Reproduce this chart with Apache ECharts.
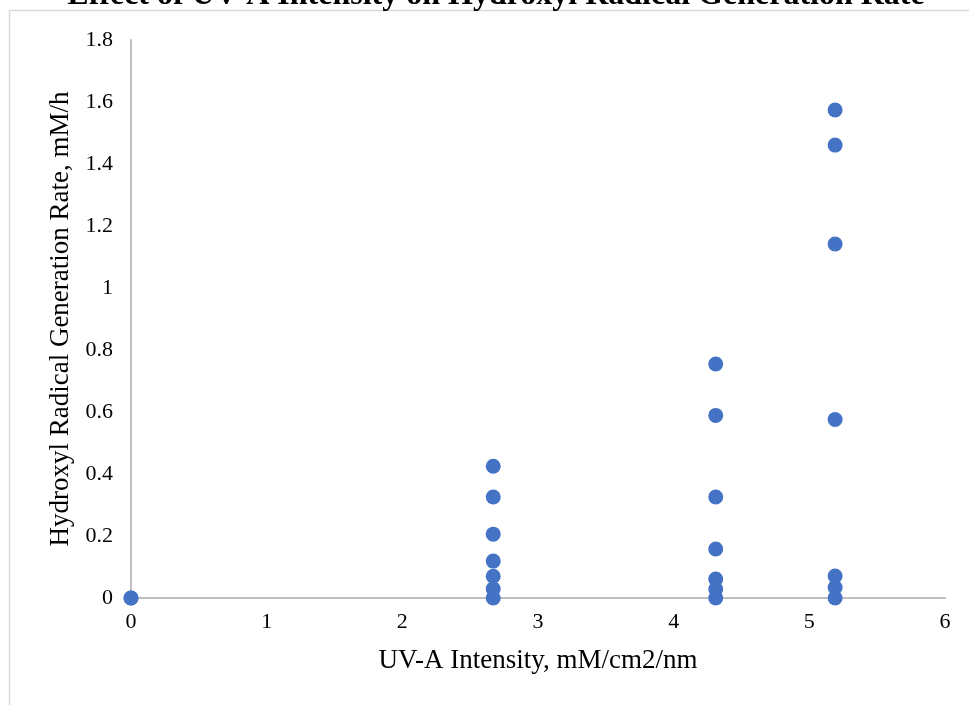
<!DOCTYPE html>
<html>
<head>
<meta charset="utf-8">
<script src="https://cdn.jsdelivr.net/npm/echarts@6/dist/echarts.min.js"></script>
<style>
  html, body { margin: 0; padding: 0; background: #fff; }
  #chart { width: 969px; height: 705px; }
</style>
</head>
<body>
<div id="chart"></div>
<script>
// UV-A intensity (x) and hydroxyl radical generation rate (y), one entry per point
const intensity = [
  0, 0,
  2.67, 2.67, 2.67, 2.67, 2.67, 2.67, 2.67,
  4.31, 4.31, 4.31, 4.31, 4.31, 4.31, 4.31,
  5.19, 5.19, 5.19, 5.19, 5.19, 5.19, 5.19
];
const rate = [
  0, 0,
  0.425, 0.326, 0.206, 0.119, 0.07, 0.03, 0,
  0.755, 0.589, 0.326, 0.158, 0.061, 0.029, 0,
  1.574, 1.461, 1.142, 0.576, 0.071, 0.034, 0
];

const xTitle = "UV-A Intensity, mM/cm2/nm";
const yTitle = "Hydroxyl Radical Generation Rate, mM/h";
const chartTitle = "Effect of UV-A Intensity on Hydroxyl Radical Generation Rate";

const font = "'Liberation Serif', 'Times New Roman', serif";

const points = intensity.map((x, i) => [x, rate[i]]);

const chart = echarts.init(document.getElementById("chart"));

chart.setOption({
  animation: false,
  backgroundColor: "#fff",
  graphic: [
    {
      type: "rect",
      shape: { x: 9.5, y: 10.5, width: 1200, height: 1200 },
      style: { fill: "none", stroke: "#d9d9d9", lineWidth: 1.5 },
      silent: true
    },
    {
      type: "text",
      x: 496,
      y: 12,
      style: {
        text: chartTitle,
        font: "bold 32px " + font,
        fill: "#000",
        textAlign: "center",
        textVerticalAlign: "bottom"
      }
    }
  ],
  grid: { left: 131, right: 24, top: 40, bottom: 107 },
  xAxis: {
    type: "value",
    min: 0,
    max: 6,
    interval: 1,
    name: xTitle,
    nameLocation: "middle",
    nameGap: 49,
    nameTextStyle: { fontFamily: font, fontSize: 27, color: "#000" },
    axisLine: { show: true, onZero: false, lineStyle: { color: "#bfbfbf", width: 2 } },
    axisTick: { show: false },
    splitLine: { show: false },
    axisLabel: { fontFamily: font, fontSize: 22, color: "#000", margin: 13 }
  },
  yAxis: {
    type: "value",
    min: 0,
    max: 1.8,
    interval: 0.2,
    name: yTitle,
    nameLocation: "middle",
    nameGap: 55,
    nameTextStyle: { fontFamily: font, fontSize: 27, color: "#000" },
    axisLine: { show: true, lineStyle: { color: "#bfbfbf", width: 2 } },
    axisTick: { show: false },
    splitLine: { show: false },
    axisLabel: { fontFamily: font, fontSize: 22, color: "#000", margin: 18 }
  },
  series: [
    {
      type: "scatter",
      data: points,
      symbol: "circle",
      symbolSize: 15,
      itemStyle: { color: "#4472c4", opacity: 1 }
    }
  ]
});
</script>
</body>
</html>
